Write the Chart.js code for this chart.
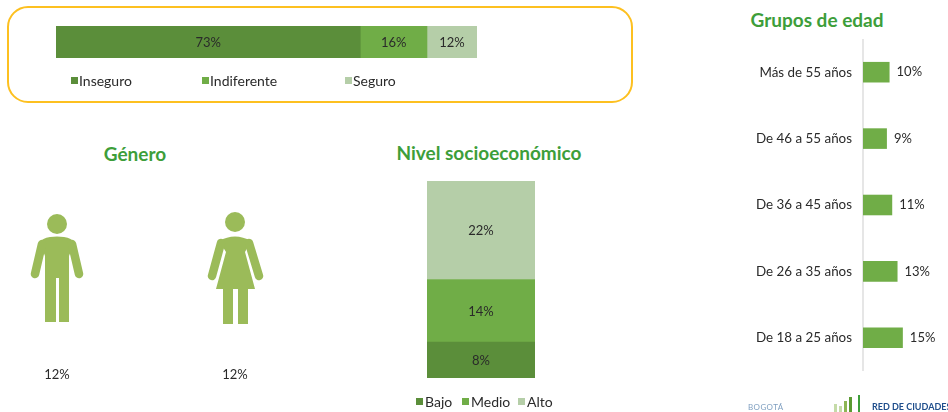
<!DOCTYPE html>
<html lang="es">
<head>
<meta charset="utf-8">
<title>Percepción de seguridad</title>
<script src="https://cdn.jsdelivr.net/npm/chart.js@4"></script>
<style>
html, body { margin: 0; padding: 0; background: #fff; width: 948px; height: 412px; overflow: hidden; }
body { position: relative; font-family: Lato, sans-serif; color: #2a2a2a; }
canvas { position: absolute; }
.box { position: absolute; left: 7px; top: 6px; width: 622px; height: 93px; border: 2.5px solid #fdc020; border-radius: 21px; }
.title { position: absolute; font-weight: 700; font-size: 19px; color: #3d9e3a; white-space: nowrap; transform: translateX(-50%); line-height: 24px; }
.txt { position: absolute; font-size: 14px; white-space: nowrap; line-height: 18px; }
.mark { position: absolute; width: 7px; height: 7px; }
.figures { position: absolute; left: 0; top: 0; }
.foot { position: absolute; white-space: nowrap; font-size: 8px; line-height: 10px; }
</style>
</head>
<body>
<div class="box"></div>
<canvas id="safety" width="421" height="32" style="left:56px;top:26px"></canvas>
<canvas id="level" width="108" height="197" style="left:427px;top:181px"></canvas>
<canvas id="ages" width="208" height="332" style="left:740px;top:39px"></canvas>

<div class="title" style="left:135px;top:142px">Género</div>
<div class="title" style="left:489px;top:141px">Nivel socioeconómico</div>
<div class="title" style="left:817px;top:8px">Grupos de edad</div>

<svg class="figures" width="948" height="412" fill="#9bbb59" stroke="none">
  <circle cx="57" cy="224" r="10"/>
  <path d="M40 243 Q42 238 50 237 Q57 236 64 237 Q72 238 74 243 L69 256 L69 322 L59 322 L59 278 L56 278 L56 322 L45 322 L45 256 Z"/>
  <path d="M42 244 L35 274 M72 244 L79 274" stroke="#9bbb59" stroke-width="8.5" stroke-linecap="round"/>
  <circle cx="235" cy="222" r="10"/>
  <path d="M219 241 Q235 232 251 241 L245 252 L255 289 L248 289 L248 324 L238 324 L238 289 L233 289 L233 324 L223 324 L223 289 L216 289 L226 252 Z"/>
  <path d="M221 243 L212 276 M249 243 L259 276" stroke="#9bbb59" stroke-width="8.5" stroke-linecap="round"/>
</svg>

<div class="foot" style="left:748px;top:402px;color:#7f9fc0;letter-spacing:.4px">BOGOTÁ</div>
<svg class="figures" width="948" height="412">
  <rect x="834" y="404" width="3" height="8" fill="#c5dba8"/>
  <rect x="839" y="406" width="3" height="6" fill="#c5dba8"/>
  <rect x="844" y="401" width="3" height="11" fill="#8db654"/>
  <rect x="849" y="397" width="3" height="15" fill="#5b9a32"/>
  <rect x="858" y="395" width="2" height="17" fill="#3d9e3a"/>
</svg>
<div class="foot" style="left:872px;top:402px;color:#1f4e8c;font-weight:700;font-size:9px">RED DE CIUDADES</div>

<script>
const DARK = '#5b8e3a';
const MID = '#70ad47';
const LIGHT = '#b5cea8';

const safetyLabels = ['Inseguro', 'Indiferente', 'Seguro'];
const safetyValues = [73, 16, 12];
const safetyLegendX = [71, 202, 345];

const levelLabels = ['Bajo', 'Medio', 'Alto'];
const levelValues = [8, 14, 22];
const levelLegendX = [416, 462, 518];

const ageLabels = ['Más de 55 años', 'De 46 a 55 años', 'De 36 a 45 años', 'De 26 a 35 años', 'De 18 a 25 años'];
const ageValues = [10, 9, 11, 13, 15];

const genderValues = [12, 12];
const genderX = [57, 235];

const colors = [DARK, MID, LIGHT];

// writes the % over each bar, centered or right after the end
const percentLabels = {
    id: 'percentLabels',
    afterDatasetsDraw(chart, args, opts) {
        const ctx = chart.ctx;
        ctx.save();
        ctx.font = '13px Lato';
        ctx.fillStyle = '#2a2a2a';
        ctx.textBaseline = 'middle';
        chart.data.datasets.forEach((ds, i) => {
            chart.getDatasetMeta(i).data.forEach((bar, j) => {
                const text = ds.data[j] + '%';
                if (opts.outside) {
                    ctx.textAlign = 'left';
                    ctx.fillText(text, bar.x + 7, bar.y);
                } else {
                    const c = bar.getCenterPoint();
                    ctx.textAlign = 'center';
                    ctx.fillText(text, c.x, c.y + 1);
                }
            });
        });
        ctx.restore();
    }
};

function StackedChart(id, horizontal, max, names, values) {
    const valueAxis = { display: false, stacked: true, min: 0, max: max };
    const catAxis = { display: false, stacked: true };
    return new Chart(document.getElementById(id), {
        type: 'bar',
        data: {
            labels: [''],
            datasets: names.map((name, i) => ({
                label: name,
                data: [values[i]],
                backgroundColor: colors[i],
                barPercentage: 1,
                categoryPercentage: 1
            }))
        },
        options: {
            indexAxis: horizontal ? 'y' : 'x',
            responsive: false,
            animation: false,
            layout: { padding: 0 },
            scales: horizontal ? { x: valueAxis, y: catAxis } : { x: catAxis, y: valueAxis },
            plugins: { legend: { display: false }, tooltip: { enabled: false }, percentLabels: { outside: false } }
        },
        plugins: [percentLabels]
    });
}

StackedChart('safety', true, 101, safetyLabels, safetyValues);
StackedChart('level', false, 44, levelLabels, levelValues);

new Chart(document.getElementById('ages'), {
    type: 'bar',
    data: {
        labels: ageLabels,
        datasets: [{
            data: ageValues,
            backgroundColor: MID,
            barPercentage: 0.31,
            categoryPercentage: 1
        }]
    },
    options: {
        indexAxis: 'y',
        responsive: false,
        animation: false,
        layout: { padding: 0 },
        scales: {
            x: { display: false, min: 0, max: 32 },
            y: {
                // keep the plot the full height of the canvas
                afterFit: function(axis) {
                    axis.width = 123;
                    axis.paddingTop = 0;
                    axis.paddingBottom = 0;
                },
                grid: { display: false },
                border: { color: '#e6e6e6', width: 2 },
                ticks: { color: '#2a2a2a', padding: 3, font: { family: 'Lato', size: 13.4 } }
            }
        },
        plugins: { legend: { display: false }, tooltip: { enabled: false }, percentLabels: { outside: true } }
    },
    plugins: [percentLabels]
});

function AddLegend(names, xs, y, gap) {
    names.forEach((name, i) => {
        const mark = document.createElement('div');
        mark.className = 'mark';
        mark.style.left = xs[i] + 'px';
        mark.style.top = (y - 4) + 'px';
        mark.style.background = colors[i];
        document.body.appendChild(mark);
        const label = document.createElement('div');
        label.className = 'txt';
        label.textContent = name;
        label.style.left = (xs[i] + gap) + 'px';
        label.style.top = (y - 9) + 'px';
        document.body.appendChild(label);
    });
}

AddLegend(safetyLabels, safetyLegendX, 81, 8);
AddLegend(levelLabels, levelLegendX, 402, 9);

genderValues.forEach((v, i) => {
    const label = document.createElement('div');
    label.className = 'txt';
    label.textContent = v + '%';
    label.style.left = genderX[i] + 'px';
    label.style.top = '365px';
    label.style.fontSize = '13px';
    label.style.transform = 'translateX(-50%)';
    document.body.appendChild(label);
});
</script>
</body>
</html>
